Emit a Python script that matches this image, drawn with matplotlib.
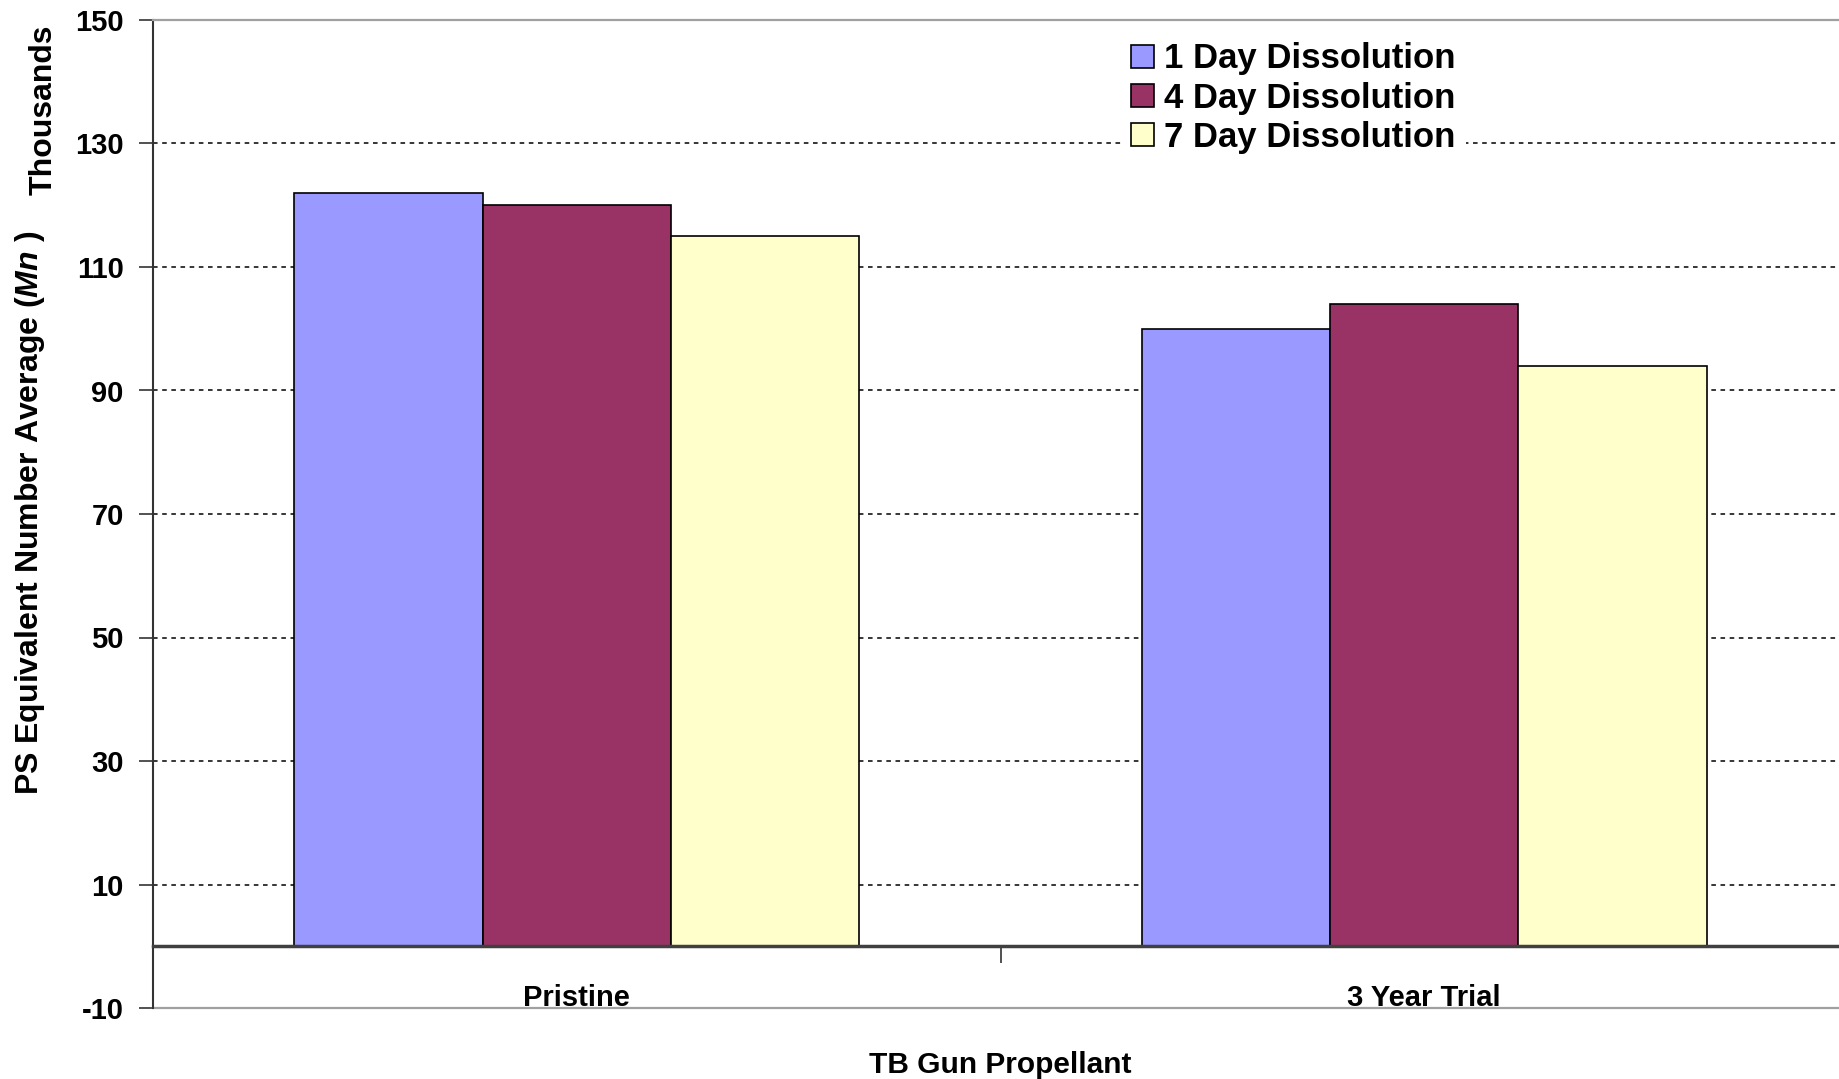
import matplotlib
matplotlib.use("Agg")
import matplotlib.pyplot as plt
import numpy as np

# data (values in thousands)
categories = ["Pristine", "3 Year Trial"]
series_names = ["1 Day Dissolution", "4 Day Dissolution", "7 Day Dissolution"]
day1 = [122, 100]
day4 = [120, 104]
day7 = [115, 94]
y_ticks = list(range(-10, 151, 20))

colors = ["#9999FF", "#993366", "#FFFFCC"]

plt.rcParams["font.family"] = ["Liberation Sans", "DejaVu Sans"]
plt.rcParams["font.weight"] = "bold"
plt.rcParams["axes.unicode_minus"] = False
plt.rcParams["mathtext.fontset"] = "custom"
plt.rcParams["mathtext.it"] = "Liberation Sans:italic:bold"
plt.rcParams["mathtext.rm"] = "Liberation Sans:bold"

W, H = 1839, 1079
fig = plt.figure(figsize=(W / 100, H / 100), dpi=100)
left_px, right_px, top_px, bot_px = 153, 1848, 20, 1008
ax = fig.add_axes([left_px / W, 1 - bot_px / H, (right_px - left_px) / W, (bot_px - top_px) / H])

x = np.arange(len(categories))
bw = 1 / 4.5
for i, vals in enumerate([day1, day4, day7]):
    ax.bar(x + (i - 1) * bw, vals, width=bw, color=colors[i], edgecolor="black",
           linewidth=1.2, label=series_names[i], zorder=3)

ax.set_xlim(-0.5, 1.5)
ax.set_ylim(-10, 150)
ax.set_yticks(y_ticks)
ax.tick_params(axis="y", labelsize=21, length=10, width=1.2, pad=11, color="#333333")

# gridlines (dashed) between the borders
for v in y_ticks[1:-1]:
    ax.axhline(v, color="black", lw=1.1, ls=(0, (3, 3)), zorder=1)

# borders of the plot area
ax.spines["right"].set_visible(False)
ax.spines["top"].set_color("#a0a0a0")
ax.spines["top"].set_linewidth(1.6)
ax.spines["left"].set_color("#333333")
ax.spines["left"].set_linewidth(1.5)
ax.axhline(-10, color="#a0a0a0", lw=1.6, zorder=2, clip_on=False)

# category axis sits at zero
ax.spines["bottom"].set_position(("data", 0))
ax.spines["bottom"].set_color("#404040")
ax.spines["bottom"].set_linewidth(2.5)
ax.spines["bottom"].set_zorder(4)
ax.set_xticks([0.5])
ax.set_xticklabels([""])
ax.tick_params(axis="x", length=12, width=1.2, color="#333333")

for xi, name in zip(x, categories):
    ax.text(xi, -9.65, name, ha="center", va="baseline", fontsize=21, fontweight="bold")

fig.text(1000 / W, 1 - 1073 / H, "TB Gun Propellant", ha="center", va="baseline",
         fontsize=21.5, fontweight="bold")
fig.text(30 / W, 1 - 513 / H, "PS Equivalent Number Average ($\\mathit{Mn}$ )",
         rotation=90, ha="center", va="center", fontsize=23, fontweight="bold")
fig.text(44 / W, 1 - 110 / H, "Thousands", rotation=90, ha="center", va="center",
         fontsize=23, fontweight="bold")

leg = ax.legend(loc="upper left", bbox_to_anchor=(1121 / W, 1 - 32 / H),
                bbox_transform=fig.transFigure, fontsize=25, frameon=True,
                fancybox=False, edgecolor="none", facecolor="white", framealpha=1,
                handlelength=0.64, handleheight=0.64, handletextpad=0.3,
                labelspacing=0.18, borderpad=0.3, borderaxespad=0)
leg.set_zorder(5)

fig.savefig("out.png", dpi=100)
